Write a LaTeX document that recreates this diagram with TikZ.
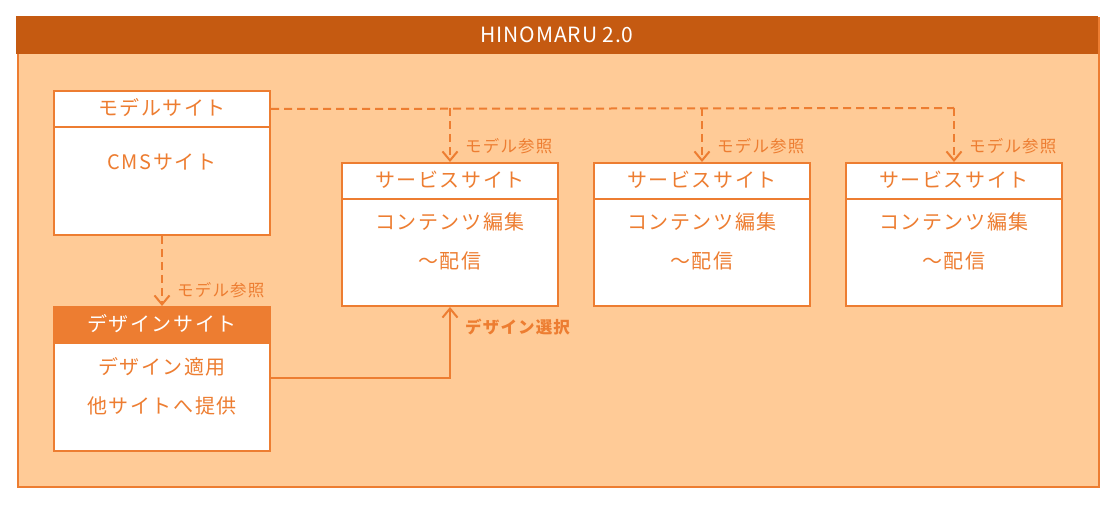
\documentclass[tikz,border=0pt]{standalone}
\usepackage{fontspec}
\setmainfont{Noto Sans CJK JP}
\newfontfamily\jpmain[LetterSpace=8]{Noto Sans CJK JP}
\newfontfamily\jplbl[LetterSpace=7]{Noto Sans CJK JP}
\newfontfamily\jptitle[LetterSpace=4]{Noto Sans CJK JP}
\usetikzlibrary{arrows.meta}
\definecolor{hdr}{HTML}{C55A11}
\definecolor{org}{HTML}{ED7D31}
\definecolor{peach}{HTML}{FFCB97}
\begin{document}
\begin{tikzpicture}[x=1pt,y=-1pt,
  box/.style={draw=org, line width=2pt, fill=white, minimum width=216pt, inner sep=0pt, anchor=north},
  txt/.style={text=org, font=\jpmain\fontsize{20}{20}\selectfont, inner sep=0pt},
  lbl/.style={text=org, font=\jplbl\fontsize{16.5}{17}\selectfont, inner sep=0pt, anchor=west},
  dsh/.style={draw=org, line width=2pt, dash pattern=on 8pt off 5pt},
  arr/.style={-{Straight Barb[length=9pt,width=15pt,line width=2pt]}},
]
\useasboundingbox (0,0) rectangle (1117,505);
% frame
\node[draw=org, line width=2pt, fill=peach, minimum width=1081pt, minimum height=469pt, anchor=north west, inner sep=0pt] (frame) at (17,17) {};
\node[fill=hdr, minimum width=1082pt, minimum height=38pt, anchor=north west, inner sep=0pt, text=white, font=\jptitle\fontsize{21}{21}\selectfont] (title) at (16,16) {HINOMARU 2.0};
% model site
\node[box, minimum height=36pt] (mhead) at (162,90) {};
\node[box, minimum height=108pt] (mbody) at (162,126) {};
\node[txt] (mt) at (162,108) {モデルサイト};
\node[txt] (mb) at (162,162) {CMSサイト};
% design site
\node[box, minimum height=108pt] (dbody) at (162,342) {};
\node[box, fill=org, minimum height=36pt] (dhead) at (162,306) {};
\node[txt, text=white] (dt) at (162,324) {デザインサイト};
\node[txt] (db1) at (162,367) {デザイン適用};
\node[txt] (db2) at (162,406) {他サイトへ提供};
% service sites
\foreach \i/\x in {1/450,2/702,3/954}{
  \node[box, minimum height=36pt] (s\i head) at (\x,162) {};
  \node[box, minimum height=107pt] (s\i body) at (\x,198) {};
  \node[txt] (s\i t) at (\x,180) {サービスサイト};
  \node[txt] (s\i a) at (\x,222) {コンテンツ編集};
  \node[txt] (s\i b) at (\x,261) {～配信};
  \node[lbl] (s\i l) at (\x+15,146) {モデル参照};
}
% connectors
\coordinate (j1) at (450,108);
\coordinate (j2) at (702,108);
\coordinate (j3) at (954,108);
\draw[dsh] (mhead.east) -- (j3);
\draw[dsh, arr] (j1) -- (s1head.north);
\draw[dsh, arr] (j2) -- (s2head.north);
\draw[dsh, arr] (j3) -- (s3head.north);
\draw[dsh, arr] (mbody.south) -- (dhead.north);
\node[lbl] (dl) at (177,290) {モデル参照};
\coordinate (sely) at (0,378);
\draw[draw=org, line width=2pt, arr] (dbody.east |- sely) -| (s1body.south);
\node[lbl, font=\jplbl\fontsize{16.5}{17}\selectfont\bfseries] (sel) at (465,327) {デザイン選択};
\end{tikzpicture}
\end{document}
